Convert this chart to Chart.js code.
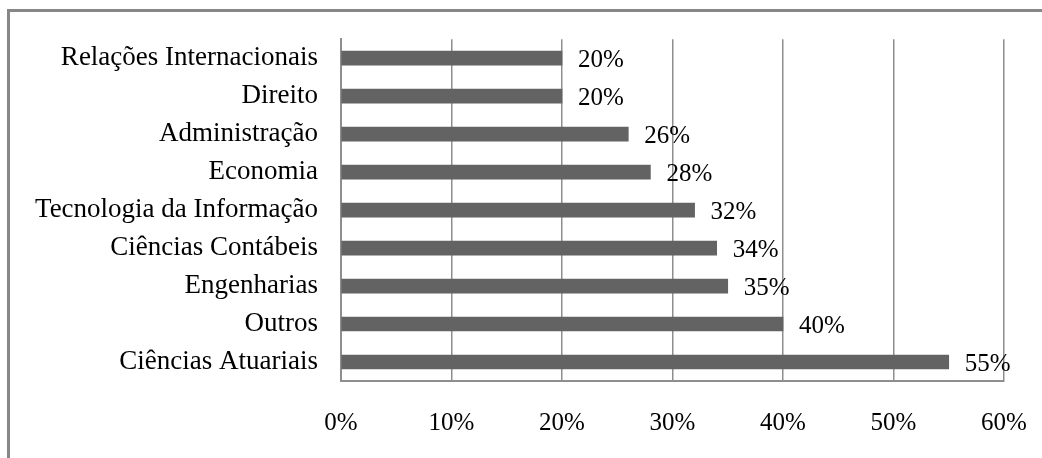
<!DOCTYPE html>
<html>
<head>
<meta charset="utf-8">
<script src="https://cdn.jsdelivr.net/npm/chart.js@4.4.0/dist/chart.umd.min.js"></script>
<style>
    html, body { margin: 0; padding: 0; background: #fff; overflow: hidden; }
    #moldura {
        position: absolute; left: 7px; top: 9px;
        width: 1100px; height: 500px;
        border: 3px solid #878787;
    }
    #wrap { position: absolute; left: 0; top: 0; width: 1042px; height: 458px; }
</style>
</head>
<body>
<div id="moldura"></div>
<div id="wrap"><canvas id="graficoCursos"></canvas></div>
<script>
// Cursos e percentuais (de cima para baixo)
const cursos = [
    'Relações Internacionais',
    'Direito',
    'Administração',
    'Economia',
    'Tecnologia da Informação',
    'Ciências Contábeis',
    'Engenharias',
    'Outros',
    'Ciências Atuariais'
];
const percentuais = [20, 20, 26, 28, 32, 34, 35, 40, 55];
const ticksEixo = [0, 10, 20, 30, 40, 50, 60];

const fonteSerif = '"Liberation Serif", "Times New Roman", serif';

// Rótulos de valor à direita de cada barra
const rotulosValor = {
    id: 'rotulosValor',
    afterDatasetsDraw(chart) {
        const ctx = chart.ctx;
        const meta = chart.getDatasetMeta(0);
        ctx.save();
        ctx.font = '25px ' + fonteSerif;
        ctx.fillStyle = '#000';
        ctx.textAlign = 'left';
        ctx.textBaseline = 'middle';
        meta.data.forEach(function(barra, i) {
            ctx.fillText(percentuais[i] + '%', barra.x + 16, barra.y + 2);
        });
        ctx.restore();
    }
};

const ctx = document.getElementById('graficoCursos').getContext('2d');
new Chart(ctx, {
    type: 'bar',
    data: {
        labels: cursos,
        datasets: [{
            data: percentuais,
            backgroundColor: '#636363',
            borderWidth: 0,
            barThickness: 14
        }]
    },
    options: {
        indexAxis: 'y',
        responsive: true,
        maintainAspectRatio: false,
        animation: false,
        layout: { padding: { top: 38, right: 38, left: 0, bottom: 0 } },
        plugins: {
            legend: { display: false },
            tooltip: { enabled: false }
        },
        scales: {
            x: {
                min: 0,
                max: 60,
                afterBuildTicks: function(scale) {
                    scale.ticks = ticksEixo.map(v => ({ value: v }));
                },
                afterFit: function(scale) {
                    scale.height = 77;
                    // o padding dos rótulos não deve encolher a área do gráfico
                    scale.paddingLeft = 0;
                    scale.paddingRight = 0;
                },
                ticks: {
                    padding: 27,
                    color: '#000',
                    font: { family: fonteSerif, size: 25 },
                    callback: v => v + '%'
                },
                grid: { color: '#8e8e8e', lineWidth: 1.5, drawTicks: false },
                border: { color: '#8e8e8e', width: 2 }
            },
            y: {
                afterFit: function(scale) { scale.width = 341; },
                ticks: {
                    padding: 23,
                    color: '#000',
                    font: { family: fonteSerif, size: 27 }
                },
                grid: { display: false, drawTicks: false },
                border: { color: '#8e8e8e', width: 2 }
            }
        }
    },
    plugins: [rotulosValor]
});
</script>
</body>
</html>
